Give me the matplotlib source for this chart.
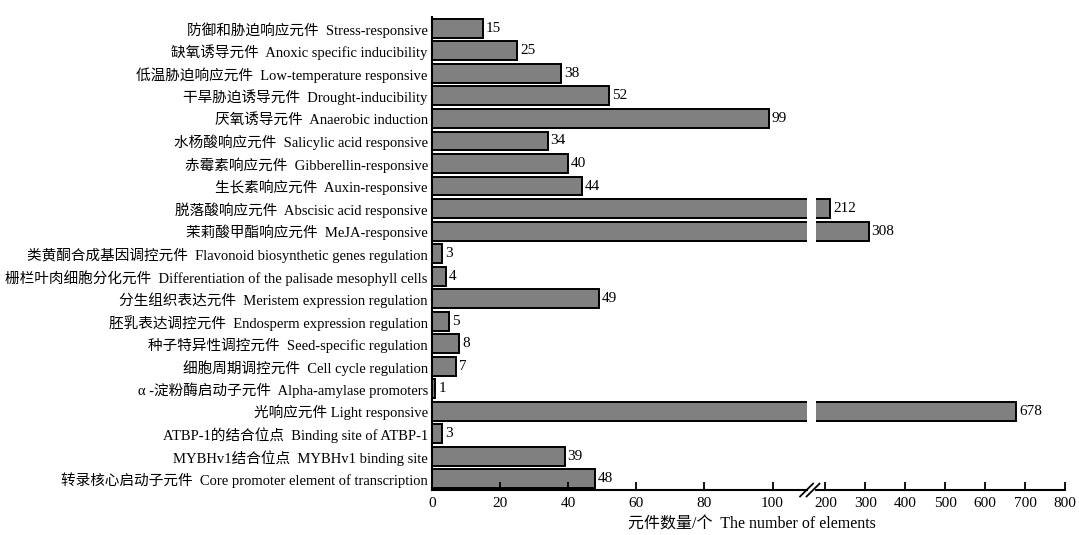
import numpy as np
import matplotlib.pyplot as plt

plt.rcParams['font.family'] = ['Liberation Serif', 'Noto Sans CJK SC']

labels = [
    '防御和胁迫响应元件  Stress-responsive',
    '缺氧诱导元件  Anoxic specific inducibility',
    '低温胁迫响应元件  Low-temperature responsive',
    '干旱胁迫诱导元件  Drought-inducibility',
    '厌氧诱导元件  Anaerobic induction',
    '水杨酸响应元件  Salicylic acid responsive',
    '赤霉素响应元件  Gibberellin-responsive',
    '生长素响应元件  Auxin-responsive',
    '脱落酸响应元件  Abscisic acid responsive',
    '茉莉酸甲酯响应元件  MeJA-responsive',
    '类黄酮合成基因调控元件  Flavonoid biosynthetic genes regulation',
    '栅栏叶肉细胞分化元件  Differentiation of the palisade mesophyll cells',
    '分生组织表达元件  Meristem expression regulation',
    '胚乳表达调控元件  Endosperm expression regulation',
    '种子特异性调控元件  Seed-specific regulation',
    '细胞周期调控元件  Cell cycle regulation',
    'α -淀粉酶启动子元件  Alpha-amylase promoters',
    '光响应元件 Light responsive',
    'ATBP-1的结合位点  Binding site of ATBP-1',
    'MYBHv1结合位点  MYBHv1 binding site',
    '转录核心启动子元件  Core promoter element of transcription',
]
counts = [15, 25, 38, 52, 99, 34, 40, 44, 212, 308, 3, 4, 49, 5, 8, 7, 1, 678, 3, 39, 48]

left_ticks = [0, 20, 40, 60, 80, 100]
right_ticks = [200, 300, 400, 500, 600, 700, 800]
left_lim = (0, 110)
right_lim = (177, 800)

fig = plt.figure(figsize=(10.79, 5.35), dpi=100)
bottom, top = 0.084, 0.968
ax1 = fig.add_axes([0.4004, bottom, 0.7475 - 0.4004, top - bottom])
ax2 = fig.add_axes([0.7565, bottom, 0.987 - 0.7565, top - bottom])

y = np.arange(len(counts))
bar_kw = dict(height=0.84, color='#808080', edgecolor='black', linewidth=1.4)

for ax in (ax1, ax2):
    ax.barh(y, counts, **bar_kw)
    ax.set_ylim(len(counts) - 0.5, -0.5)
    ax.set_yticks([])
    ax.spines['top'].set_visible(False)
    ax.spines['right'].set_visible(False)
    ax.spines['bottom'].set_linewidth(1.5)
    ax.tick_params(axis='x', direction='in', length=6, width=1.3,
                   labelsize=11, pad=5)
    ax.patch.set_alpha(0)

ax1.set_xlim(*left_lim)
ax1.set_xticks(left_ticks)
ax1.spines['left'].set_linewidth(1.5)
ax1.set_yticks(y)
ax1.set_yticklabels(labels, fontsize=10.5)
ax1.tick_params(axis='y', length=0, pad=3)

ax2.set_xlim(*right_lim)
ax2.set_xticks(right_ticks)
ax2.spines['left'].set_visible(False)

# value labels next to bar ends
for yi, v in zip(y, counts):
    ax = ax1 if v <= left_lim[1] else ax2
    ax.annotate(str(v), (v, yi), xytext=(2, 0), textcoords='offset points',
                va='center', ha='left', fontsize=11)

# break marks on the x axis
d = 0.012
kw = dict(transform=fig.transFigure, color='black', lw=1.3, clip_on=False)
for xc in (0.7475, 0.7535):
    fig.add_artist(plt.Line2D([xc - d / 2, xc + d / 2],
                              [bottom - 0.012, bottom + 0.012], **kw))

fig.text(0.697, 0.02, '元件数量/个  The number of elements', ha='center',
         va='center', fontsize=11.5)

fig.savefig('out.png', dpi=100)
